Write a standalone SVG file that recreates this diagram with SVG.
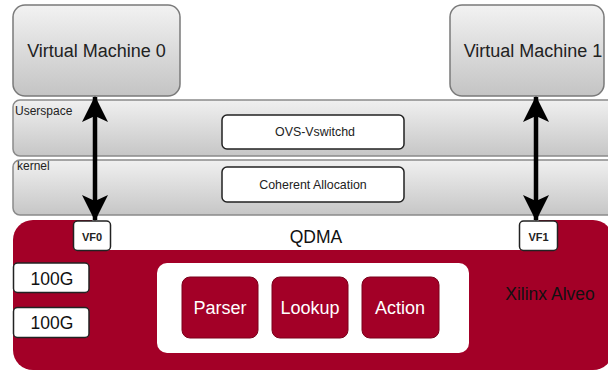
<svg xmlns="http://www.w3.org/2000/svg" width="608" height="372" viewBox="0 0 608 372">
<defs>
<linearGradient id="gvm" x1="0" y1="0" x2="0" y2="1"><stop offset="0" stop-color="#f2f2f2"/><stop offset="1" stop-color="#c4c4c4"/></linearGradient>
<linearGradient id="gband" x1="0" y1="0" x2="0" y2="1"><stop offset="0" stop-color="#f0f0f0"/><stop offset="1" stop-color="#c6c6c6"/></linearGradient>
<marker id="ah" viewBox="0 0 26 26" refX="25" refY="13" markerWidth="26" markerHeight="26" markerUnits="userSpaceOnUse" orient="auto-start-reverse"><path d="M0,0 L26,13 L0,26 L6,13 Z" fill="#000"/></marker>
</defs>
<style>
text{font-family:"Liberation Sans",Arial,sans-serif;text-anchor:middle;dominant-baseline:central}
.vm{fill:url(#gvm);stroke:#7a7a7a;stroke-width:1.5}
.band{fill:url(#gband);stroke:#8a8a8a;stroke-width:1.5}
.wb{fill:#fff;stroke:#222;stroke-width:1.5}
.red{fill:#a30027}
.rb{fill:#a30027;stroke:#7a001a;stroke-width:1}
.t16{font-size:18px;fill:#222}
.t15{font-size:17.5px;fill:#111}
.t11{font-size:12.4px;fill:#222}
.tl{font-size:12px;fill:#222;text-anchor:start}
.vf{font-size:11px;font-weight:bold;fill:#222}
.wt{font-size:18px;fill:#fff}
</style>
<g id="vm0"><rect class="vm" x="13" y="5" width="167" height="91" rx="12"/><text class="t16" x="96.5" y="51">Virtual Machine 0</text></g>
<g id="vm1"><rect class="vm" x="450" y="5" width="154" height="91" rx="12"/><text class="t16" x="533" y="51">Virtual Machine 1</text></g>
<g id="userspace"><rect class="band" x="13" y="100" width="605" height="56" rx="7"/><text class="tl" x="15" y="111">Userspace</text></g>
<g id="kernel"><rect class="band" x="13" y="160" width="605" height="55" rx="7"/><text class="tl" x="17" y="166">kernel</text></g>
<g id="ovs"><rect class="wb" x="222" y="115" width="182" height="34" rx="5"/><text class="t11" x="315" y="132">OVS-Vswitchd</text></g>
<g id="coherent"><rect class="wb" x="222" y="167" width="182" height="35" rx="5"/><text class="t11" x="313" y="185">Coherent Allocation</text></g>
<g id="alveo"><rect class="red" x="13" y="220" width="600" height="150" rx="20"/><rect x="92" y="220" width="447" height="30" fill="#fff"/><text class="t15" x="316" y="237">QDMA</text><text class="t15" x="550" y="294">Xilinx Alveo</text></g>
<g id="vf0"><rect class="wb" x="73.5" y="221" width="37" height="29.5" rx="4"/><text class="vf" x="92" y="236.5">VF0</text></g>
<g id="vf1"><rect class="wb" x="519.5" y="221" width="38" height="29.5" rx="4"/><text class="vf" x="538.5" y="236.5">VF1</text></g>
<g id="p100g0"><rect class="wb" x="13.5" y="263" width="75.5" height="29.5" rx="4"/><text class="t15" x="52" y="278.5">100G</text></g>
<g id="p100g1"><rect class="wb" x="13.5" y="307.5" width="75.5" height="30" rx="4"/><text class="t15" x="52" y="323">100G</text></g>
<g id="pipeline"><rect x="157" y="263" width="312" height="90" rx="10" fill="#fff"/></g>
<g id="parser"><rect class="rb" x="182" y="277" width="76" height="61" rx="8"/><text class="wt" x="220" y="308">Parser</text></g>
<g id="lookup"><rect class="rb" x="272" y="277" width="76" height="61" rx="8"/><text class="wt" x="310" y="308">Lookup</text></g>
<g id="action"><rect class="rb" x="362" y="277" width="77" height="61" rx="8"/><text class="wt" x="400" y="308">Action</text></g>
<g id="connectors" stroke="#000" stroke-width="4.5" fill="none">
<line x1="95" y1="97" x2="95" y2="220" marker-start="url(#ah)" marker-end="url(#ah)"/>
<line x1="536" y1="97" x2="536" y2="220" marker-start="url(#ah)" marker-end="url(#ah)"/>
</g>
</svg>
